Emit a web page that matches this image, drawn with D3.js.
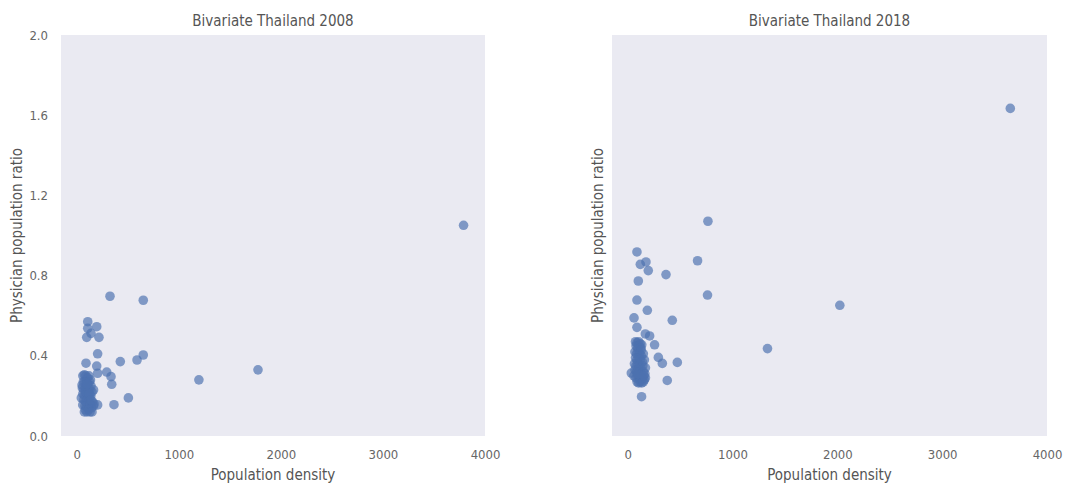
<!DOCTYPE html>
<html>
<head>
<meta charset="utf-8">
<script src="https://cdn.jsdelivr.net/npm/d3@7"></script>
<style>
  html, body { margin: 0; padding: 0; background: #fff; }
  svg text { font-family: "Liberation Sans Narrow", "DejaVu Sans Condensed", "Liberation Sans", sans-serif; }
</style>
</head>
<body>
<svg id="chart" width="1066" height="485"></svg>
<script>
// Province-level population density vs. physician population ratio
const titles = ["Bivariate Thailand 2008", "Bivariate Thailand 2018"];
const xLabel = "Population density";
const yLabel = "Physician population ratio";
const xTicks = [0, 1000, 2000, 3000, 4000];
const yTicks = [0.0, 0.4, 0.8, 1.2, 1.6, 2.0];

// 2008: population density and physician ratio per province
const density2008 = [326, 652, 108, 108, 196, 140, 98, 218, 205, 91, 196, 427, 591, 652, 294, 336, 343, 205, 506, 365, 1197, 1776, 3790,
  60, 75, 90, 105, 120, 135, 80, 95, 110, 125, 140, 52, 55, 70, 85, 100, 115, 130, 150, 165, 60, 78, 92, 108, 122, 138, 45, 70, 88, 102,
  118, 135, 155, 170, 59, 80, 96, 112, 128, 145, 165, 85, 100, 115, 130, 150, 75, 90, 110, 125, 65, 140, 100, 205];
const ratio2008 = [0.697, 0.677, 0.570, 0.537, 0.545, 0.512, 0.492, 0.492, 0.410, 0.363, 0.349, 0.371, 0.379, 0.404, 0.319, 0.296, 0.258, 0.313, 0.190, 0.156, 0.280, 0.330, 1.051,
  0.30, 0.305, 0.30, 0.29, 0.30, 0.28, 0.27, 0.27, 0.26, 0.27, 0.25, 0.254, 0.24, 0.23, 0.24, 0.23, 0.22, 0.23, 0.22, 0.23, 0.21, 0.20, 0.21, 0.20, 0.19, 0.20, 0.19, 0.18, 0.17, 0.18,
  0.17, 0.16, 0.17, 0.16, 0.155, 0.15, 0.15, 0.14, 0.15, 0.14, 0.15, 0.13, 0.12, 0.13, 0.12, 0.12, 0.12, 0.22, 0.24, 0.21, 0.27, 0.18, 0.26, 0.155];

// 2018: population density and physician ratio per province
const density2018 = [89, 121, 175, 197, 667, 366, 102, 762, 766, 89, 188, 61, 426, 89, 169, 210, 257, 1334, 2024, 293, 331, 474, 378, 133, 3650, 35,
  75, 90, 105, 120, 135, 80, 95, 110, 125, 70, 85, 100, 115, 130, 150, 75, 90, 105, 120, 140, 160, 65, 80, 95, 110, 125, 145, 170, 70, 85,
  100, 115, 130, 150, 165, 60, 80, 95, 110, 125, 140, 160, 90, 105, 120, 135, 150, 170, 100, 130, 155];
const ratio2018 = [0.918, 0.856, 0.868, 0.825, 0.874, 0.805, 0.773, 0.703, 1.071, 0.678, 0.627, 0.589, 0.577, 0.542, 0.509, 0.499, 0.455, 0.436, 0.652, 0.392, 0.362, 0.367, 0.277, 0.196, 1.634, 0.314,
  0.47, 0.465, 0.47, 0.46, 0.455, 0.45, 0.44, 0.45, 0.44, 0.42, 0.41, 0.42, 0.41, 0.40, 0.41, 0.39, 0.38, 0.39, 0.38, 0.37, 0.38, 0.36, 0.35, 0.36, 0.35, 0.34, 0.35, 0.34, 0.33, 0.32,
  0.33, 0.32, 0.31, 0.32, 0.31, 0.30, 0.29, 0.30, 0.29, 0.28, 0.29, 0.28, 0.27, 0.265, 0.27, 0.265, 0.27, 0.29, 0.31, 0.43, 0.30];

const panels = [
  { title: titles[0], xs: density2008, ys: ratio2008, left: 61, right: 485, xmin: -154, showYTicks: true, yLabelX: 17 },
  { title: titles[1], xs: density2018, ys: ratio2018, left: 612, right: 1047, xmin: -149, showYTicks: false, yLabelX: 598 }
];

const plotTop = 35, plotBottom = 436;
const svg = d3.select("#chart");
const y = d3.scaleLinear().domain([0, 2]).range([plotBottom, plotTop]);

panels.forEach(p => {
  const x = d3.scaleLinear().domain([p.xmin, 4000]).range([p.left, p.right]);
  const g = svg.append("g");

  g.append("rect")
    .attr("x", p.left).attr("y", plotTop)
    .attr("width", p.right - p.left).attr("height", plotBottom - plotTop)
    .attr("fill", "#EAEAF2");

  // x axis: labels only, no tick marks or domain line
  const xa = g.append("g")
    .attr("transform", `translate(0,${plotBottom})`)
    .call(d3.axisBottom(x).tickValues(xTicks).tickFormat(d3.format("d")).tickSize(0).tickPadding(14));
  xa.select(".domain").remove();
  xa.selectAll("text").attr("fill", "#666").attr("font-size", 13);

  if (p.showYTicks) {
    const ya = g.append("g")
      .attr("transform", `translate(${p.left},0)`)
      .call(d3.axisLeft(y).tickValues(yTicks).tickFormat(d3.format(".1f")).tickSize(0).tickPadding(13));
    ya.select(".domain").remove();
    ya.selectAll("text").attr("fill", "#666").attr("font-size", 13);
  }

  g.append("text")
    .attr("x", (p.left + p.right) / 2).attr("y", 26)
    .attr("text-anchor", "middle")
    .attr("fill", "#555").attr("font-size", 15)
    .text(p.title);

  g.append("text")
    .attr("x", (p.left + p.right) / 2).attr("y", 480)
    .attr("text-anchor", "middle")
    .attr("fill", "#555").attr("font-size", 15)
    .text(xLabel);

  g.append("text")
    .attr("transform", `translate(${p.yLabelX},${(plotTop + plotBottom) / 2}) rotate(-90)`)
    .attr("text-anchor", "middle")
    .attr("dominant-baseline", "central")
    .attr("fill", "#555").attr("font-size", 15)
    .text(yLabel);

  g.append("g")
    .selectAll("circle")
    .data(p.xs.map((v, i) => [v, p.ys[i]]))
    .join("circle")
    .attr("cx", d => x(d[0]))
    .attr("cy", d => y(d[1]))
    .attr("r", 4.8)
    .attr("fill", "#4C72B0")
    .attr("fill-opacity", 0.68);
});
</script>
</body>
</html>
